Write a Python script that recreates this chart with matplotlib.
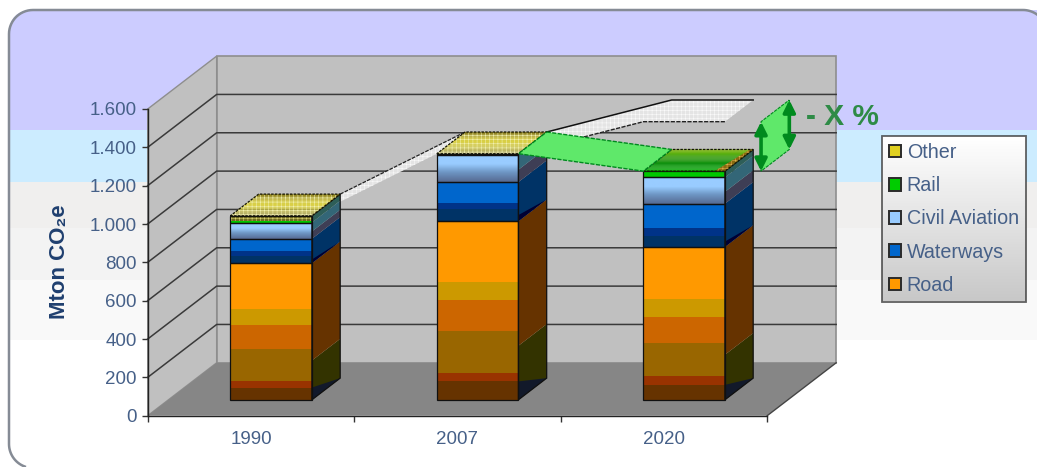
import numpy as np
import matplotlib
matplotlib.use("Agg")
import matplotlib.pyplot as plt
from matplotlib.colors import LinearSegmentedColormap
from matplotlib.patches import FancyBboxPatch, Patch, Rectangle

plt.rcParams["font.family"] = ["Liberation Sans", "DejaVu Sans"]
plt.rcParams["hatch.linewidth"] = 0.4

years = ["1990", "2007", "2020"]
y_ticks = [0, 200, 400, 600, 800, 1000, 1200, 1400, 1600]
y_labels = ["0", "200", "400", "600", "800", "1.000", "1.200", "1.400", "1.600"]

# Road is split into six shades, waterways into three
road_1 = [64, 96, 78]
road_2 = [35, 42, 47]
road_3 = [165, 219, 169]
road_4 = [127, 164, 139]
road_5 = [82, 94, 92]
road_6 = [240, 317, 273]
water_1 = [38, 64, 55]
water_2 = [23, 32, 46]
water_3 = [66, 108, 124]
civil = [85, 143, 137]
rail = [10, 2, 31]
other = [25, 3, 2]

# height of the olive part on the side faces, and the reduction target level
side_olive = [205, 282, 235]
target = 1451

W, H = 1037, 467
DX, DY = 0.334, 276      # shift of the floor's full depth, in data units
D0, D1 = 0.30, 0.71      # depth range of the bars
BAR_W = 0.395
BAR_X = [0.30, 1.30, 2.30]

road_bands = [road_1, road_2, road_3, road_4, road_5, road_6]
road_cols = ["#663300", "#993300", "#996600", "#CC6600", "#CC9900", "#FF9900"]
water_bands = [water_1, water_2, water_3]
water_cols = ["#003366", "#003388", "#0066CC"]


def pt(x, v, d):
    return x + d * DX, v + d * DY


def poly(ax, pts, **kw):
    xs, ys = zip(*pts)
    kw.setdefault("linewidth", 0)
    return ax.fill(xs, ys, clip_on=False, **kw)[0]


def mix(c1, c2, t):
    a = np.array(matplotlib.colors.to_rgb(c1))
    b = np.array(matplotlib.colors.to_rgb(c2))
    return tuple(a + (b - a) * t)


def top_face(ax, x, v, stops, zorder=6):
    # shaded from the front edge to the back edge in thin strips
    n = 24
    for k in range(n):
        t = k / n
        seg = t * (len(stops) - 1)
        j = min(int(seg), len(stops) - 2)
        col = mix(stops[j], stops[j + 1], seg - j)
        d0 = D0 + (D1 - D0) * t
        d1 = D0 + (D1 - D0) * (k + 1) / n
        poly(ax, [pt(x, v, d0), pt(x + BAR_W, v, d0), pt(x + BAR_W, v, d1), pt(x, v, d1)],
             color=col, zorder=zorder)


def top_corners(x, v):
    return [pt(x, v, D0), pt(x + BAR_W, v, D0), pt(x + BAR_W, v, D1), pt(x, v, D1)]


def corner(cx, cy, r, a0, a1):
    a = np.radians(np.linspace(a0, a1, 16))
    return cx + r * np.cos(a), cy + r * np.sin(a)


fig = plt.figure(figsize=(W / 100, H / 100), dpi=100, facecolor="white")

# rounded panel with its pale colour bands
bg = fig.add_axes([0, 0, 1, 1], zorder=0)
bg.set_xlim(0, W)
bg.set_ylim(H, 0)
bg.axis("off")
panel = FancyBboxPatch((9, 10), 1200, 600, boxstyle="round,pad=0,rounding_size=24",
                       facecolor="white", edgecolor="none")
bg.add_patch(panel)
band_edges = [0, 130, 182, 228, 280, 340]
band_cols = ["#CCCCFF", "#CCECFF", "#F0EFEE", "#F3F3F3", "#F9F9F9"]
for i, c in enumerate(band_cols):
    r = Rectangle((0, band_edges[i]), W, band_edges[i + 1] - band_edges[i], color=c, linewidth=0)
    bg.add_patch(r)
    r.set_clip_path(panel)

# only the left and top edges of the outline are in frame
R = 24
x_bl, y_bl = corner(9 + R, 468 - R, R, 110, 180)
x_tl, y_tl = corner(9 + R, 10 + R, R, 180, 270)
x_tr, y_tr = corner(1047 - R, 10 + R, R, 270, 325)
bg.plot(np.r_[x_bl, x_tl, x_tr], np.r_[y_bl, y_tl, y_tr], color="#858B95", lw=1.8)

# plot area: the data axes are the front plane of the box
ax = fig.add_axes([147.7 / W, 1 - 415.7 / H, 619.5 / W, 306.7 / H], zorder=2)
ax.patch.set_visible(False)
ax.set_xlim(0, 3)
ax.set_ylim(0, 1600)

# walls and floor
poly(ax, [pt(0, 0, 0), pt(0, 1600, 0), pt(0, 1600, 1), pt(0, 0, 1)],
     facecolor="#C0C0C0", edgecolor="#8E8E8E", linewidth=1, zorder=1)
poly(ax, [pt(0, 0, 1), pt(0, 1600, 1), pt(3, 1600, 1), pt(3, 0, 1)],
     facecolor="#C0C0C0", edgecolor="#8E8E8E", linewidth=1.2, zorder=1)
poly(ax, [pt(0, 0, 0), pt(3, 0, 0), pt(3, 0, 1), pt(0, 0, 1)], color="#868686", zorder=1.5)
ax.plot(*zip(pt(3, 0, 0), pt(3, 0, 1)), color="#444444", lw=1, clip_on=False, zorder=1.6)

for v in y_ticks[1:-1]:
    ax.plot(*zip(pt(0, v, 0), pt(0, v, 1), pt(3, v, 1)), color="#3A3A3A", lw=1.1,
            clip_on=False, zorder=2)

totals = [sum(b[i] for b in road_bands + water_bands + [civil, rail, other]) for i in range(3)]

# projection of the 2007 level out to the target, behind the bars
ghost_fill = dict(facecolor="#E4E4E4", edgecolor="#FAFAFA", hatch="++++", zorder=3)
poly(ax, [pt(BAR_X[0] + BAR_W, totals[0], D1), pt(BAR_X[1], totals[1], D1),
          pt(BAR_X[1], totals[1], D0), pt(BAR_X[0] + BAR_W, totals[0], D0)], **ghost_fill)
gc = top_corners(BAR_X[2], target)
ghost = [pt(BAR_X[1] + BAR_W, totals[1], D1), gc[3], gc[2], gc[1], gc[0],
         pt(BAR_X[1] + BAR_W, totals[1], D0)]
poly(ax, ghost, **ghost_fill)
ax.plot(*zip(*ghost[:3]), color="#111111", lw=1.1, clip_on=False, zorder=3.1)
ax.plot(*zip(*ghost[3:]), color="#222222", lw=1, ls=(0, (3, 1)), clip_on=False, zorder=3.1)
ax.plot(*zip(pt(BAR_X[0] + BAR_W, totals[0], D1), pt(BAR_X[1], totals[1], D1)),
        color="#222222", lw=0.9, ls=(0, (3, 1)), clip_on=False, zorder=3.1)

civil_cmap = LinearSegmentedColormap.from_list(
    "civil", [(0, "#566A92"), (0.35, "#6E96C4"), (0.65, "#99CCFF"), (1, "#99CCFF")])
grad = np.linspace(0, 1, 64).reshape(-1, 1)

for i, x in enumerate(BAR_X):
    base_x, base_y = pt(x, 0, D0)
    level = 0

    # front bands
    for band, col in zip(road_bands + water_bands, road_cols + water_cols):
        ax.add_patch(Rectangle((base_x, base_y + level), BAR_W, band[i], color=col,
                               linewidth=0, zorder=4, clip_on=False))
        level += band[i]
    road_top = sum(b[i] for b in road_bands)
    water_top = level
    ax.imshow(grad, cmap=civil_cmap, origin="lower", aspect="auto", zorder=4, clip_on=False,
              extent=(base_x, base_x + BAR_W, base_y + level, base_y + level + civil[i]))
    level += civil[i]
    civil_top = level
    ax.add_patch(Rectangle((base_x, base_y + level), BAR_W, rail[i], color="#00C800",
                           linewidth=0, zorder=4, clip_on=False))
    level += rail[i]
    ax.add_patch(Rectangle((base_x, base_y + level), BAR_W, other[i], facecolor="#6E6A20",
                           edgecolor="#D8D070", hatch="++++", linewidth=0, zorder=4, clip_on=False))
    level += other[i]

    # side face, split into its own darker bands
    xr = x + BAR_W

    def side(v0, v1, col, v0_back=None, v1_back=None):
        v0b = v0 if v0_back is None else v0_back
        v1b = v1 if v1_back is None else v1_back
        poly(ax, [pt(xr, v0, D0), pt(xr, v1, D0), pt(xr, v1b, D1), pt(xr, v0b, D1)],
             color=col, zorder=4)

    side(0, side_olive[i], "#333300")
    side(0, road_1[i], "#12192A", 0, 0)
    side(side_olive[i], road_top, "#663300")
    side(road_top, water_top, "#003366")
    side(road_top, road_top + water_1[i] * 0.5, "#000033", road_top, road_top)
    mid = water_top + civil[i] * 0.45
    side(water_top, mid, "#3E3E55")
    side(mid, civil_top, "#336677")
    side(civil_top, level, "#2E5E58")

    # outlines
    for lo, hi in [(0, road_top), (road_top, water_top), (water_top, civil_top), (civil_top, level)]:
        ax.add_patch(Rectangle((base_x, base_y + lo), BAR_W, hi - lo, fill=False,
                               edgecolor="#101010", linewidth=0.9, zorder=5, clip_on=False))
    poly(ax, [pt(xr, 0, D0), pt(xr, level, D0), pt(xr, level, D1), pt(xr, 0, D1)],
         fill=False, edgecolor="#101010", linewidth=0.9, zorder=5)

    # top face: Other shows yellow unless Rail is the visible layer
    if other[i] > rail[i]:
        top_face(ax, x, level, ["#A8A268", "#DDD444", "#DCD030", "#7A6C10"])
        poly(ax, top_corners(x, level), fill=False, edgecolor="#F2F0B0", hatch="++++", zorder=6)
    else:
        top_face(ax, x, level, ["#00B800", "#008E00", "#33A400", "#88C000"])
        sliver = [pt(xr - 0.05, level, D0), pt(xr, level, D0), pt(xr, level, D1), pt(xr - 0.015, level, D1)]
        poly(ax, sliver, facecolor="#8A6A10", edgecolor="#E0B050", hatch="++++", zorder=6.1)
    poly(ax, top_corners(x, level), fill=False, edgecolor="#151505", linewidth=0.9,
         linestyle=(0, (2, 1)), zorder=6.2)

# reduction between 2007 and the 2020 bar
GREEN = "#008A1E"
poly(ax, [pt(BAR_X[1] + BAR_W, totals[1], D1), pt(BAR_X[2], totals[2], D1),
          pt(BAR_X[2], totals[2], D0), pt(BAR_X[1] + BAR_W, totals[1], D0)],
     facecolor="#5FE86A", edgecolor=GREEN, linewidth=1, linestyle=(0, (3, 1)), zorder=7)

# gap to the target, marked beside the 2020 bar
gap = 0.175
xa = BAR_X[2] + BAR_W + gap
poly(ax, [pt(xa, target, D1), pt(xa, totals[2], D1), pt(xa, totals[2], D0), pt(xa, target, D0)],
     facecolor="#5FE86A", edgecolor=GREEN, linewidth=0.8, linestyle=(0, (3, 1)), zorder=7)
for d in (D0, D1):
    ax.annotate("", xy=pt(xa, target, d), xytext=pt(xa, totals[2], d), annotation_clip=False,
                zorder=8, arrowprops=dict(arrowstyle="<|-|>", color=GREEN, lw=2.6,
                                          mutation_scale=18, shrinkA=0, shrinkB=0))
ax.text(pt(xa, target, D1)[0] + 0.08, 1559, "- X %", fontsize=21.5, fontweight="bold", color="#2E8B46",
        va="center", ha="left", zorder=8, clip_on=False)

# axes
ax.set_xlim(0, 3)
ax.set_ylim(0, 1600)
for s in ("top", "right"):
    ax.spines[s].set_visible(False)
for s in ("left", "bottom"):
    ax.spines[s].set_linewidth(1)
    ax.spines[s].set_color("#222222")
    ax.spines[s].set_zorder(9)
ax.set_yticks(y_ticks)
ax.set_yticklabels(y_labels, fontsize=13.5, color="#466088")
ax.tick_params(axis="y", length=4, width=1, color="#333333", pad=4)
ax.set_xticks([0, 1, 2, 3])
ax.set_xticklabels([])
ax.set_xticks([0.5, 1.5, 2.5], minor=True)
ax.set_xticklabels(years, minor=True, fontsize=13.5, color="#466088")
ax.tick_params(axis="x", which="major", length=4, width=1, color="#333333")
ax.tick_params(axis="x", which="minor", length=0, pad=11)
fig.text(60 / W, 1 - 262 / H, "Mton CO₂e", rotation=90, fontsize=16, fontweight="bold",
         color="#1F3F6F", ha="center", va="center")

# legend sits on a white-to-grey panel
leg_x0, leg_x1, leg_y0, leg_y1 = 882, 1026, 136, 301
la = fig.add_axes([leg_x0 / W, 1 - leg_y1 / H, (leg_x1 - leg_x0) / W, (leg_y1 - leg_y0) / H], zorder=3)
la.axis("off")
leg_cmap = LinearSegmentedColormap.from_list("leg", ["#C8C8C8", "#E4E4E4", "#FFFFFF"])
la.imshow(grad, cmap=leg_cmap, origin="lower", aspect="auto")

labels = ["Other", "Rail", "Civil Aviation", "Waterways", "Road"]
swatches = ["#E0D020", "#00CC00", "#99CCFF", "#0066CC", "#FF9900"]
handles = [Patch(facecolor=c, edgecolor="#2A2A2A", linewidth=1.4) for c in swatches]
leg = fig.legend(handles, labels, loc="upper left", bbox_to_anchor=(leg_x0 / W, 1 - leg_y0 / H),
                 borderaxespad=0, fontsize=14.2, labelspacing=0.72, handlelength=0.62, handleheight=0.6,
                 handletextpad=0.28, borderpad=0.36, fancybox=False, facecolor="none",
                 edgecolor="#3A3A3A", framealpha=None, labelcolor="#466088")
leg.get_frame().set_linewidth(1.3)
leg.set_zorder(4)

fig.savefig("out.png", dpi=100)
